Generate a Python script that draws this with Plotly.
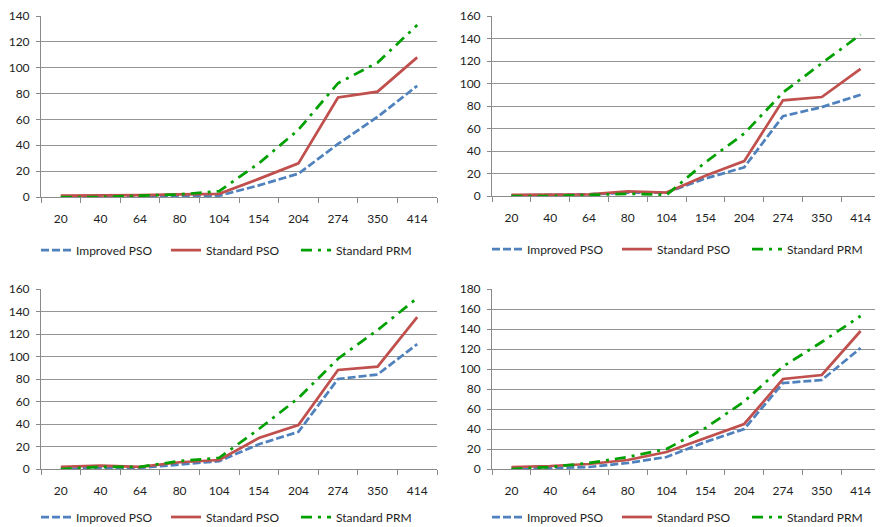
import plotly.graph_objects as go

categories = ["20", "40", "64", "80", "104", "154", "204", "274", "350", "414"]

# Panel 1 (top-left)
p1_improved = [0, 0, 0.5, 1, 1, 9, 18, 41, 62, 86]
p1_std_pso = [1, 1, 1.5, 2, 2.5, 14, 26, 77, 81.5, 108]
p1_std_prm = [0, 0, 1, 2, 4.5, 26, 52, 88, 104, 133]

# Panel 2 (top-right)
p2_improved = [0.5, 1, 1.5, 3, 3, 15.5, 25.5, 71, 79, 90]
p2_std_pso = [1, 1.5, 1.5, 4, 3, 18, 31, 85, 88, 113]
p2_std_prm = [0, 0, 1, 2, 1, 30, 55.5, 92, 118, 143.5]

# Panel 3 (bottom-left)
p3_improved = [0, 1, 1, 4, 7, 22, 33, 80, 84, 111]
p3_std_pso = [2, 3, 2, 6, 8, 27.5, 39, 88, 91, 135]
p3_std_prm = [0, 2, 2, 7, 10, 35.5, 63, 98, 123.5, 152]

# Panel 4 (bottom-right)
p4_improved = [0, 1, 2, 6, 12, 27, 40, 86, 89, 121]
p4_std_pso = [2, 3, 5, 9, 17, 31, 45, 90, 94, 138]
p4_std_prm = [0, 2, 6, 12, 20, 41, 67.5, 102.5, 127, 153]

y_max = [140, 160, 160, 180]
series_names = ["Improved PSO", "Standard PSO", "Standard PRM"]

panels = [
    (p1_improved, p1_std_pso, p1_std_prm),
    (p2_improved, p2_std_pso, p2_std_prm),
    (p3_improved, p3_std_pso, p3_std_prm),
    (p4_improved, p4_std_pso, p4_std_prm),
]

# the page body has an 8px margin, so the figure sits at (8, 8) in the window
OFF = 8
W, H = 883 - OFF, 527 - OFF
FONT = "Lato, 'Open Sans', sans-serif"
TXT = "#1e1e1e"
GRID = "#949494"
AX = "#8a8a8a"

# window-pixel boxes: (left, right, top, bottom, legend_y_center)
boxes = [
    (41, 437, 16, 197, 250),
    (492, 880, 16, 196, 249),
    (41, 437, 289, 469, 517),
    (492, 880, 289, 469, 517),
]

styles = [
    dict(color="#4F81BD", dash="8px,3px"),
    dict(color="#C0504D", dash="solid"),
    dict(color="#00A000", dash="11px,6px,3px,6px"),
]

fig = go.Figure()
layout = dict(
    width=W, height=H,
    margin=dict(l=0, r=0, t=0, b=0, autoexpand=False),
    paper_bgcolor="white", plot_bgcolor="white",
    font=dict(family=FONT, size=12, color=TXT),
)

for i, (data, (l, r, t, b, ly)) in enumerate(zip(panels, boxes)):
    l, r, t, b, ly = l - OFF, r - OFF, t - OFF, b - OFF, ly - OFF
    n = i + 1
    xa = "x" if n == 1 else f"x{n}"
    ya = "y" if n == 1 else f"y{n}"
    lg = "legend" if n == 1 else f"legend{n}"
    for vals, name, st in zip(data, series_names, styles):
        fig.add_trace(go.Scatter(
            x=categories, y=vals, name=name, mode="lines",
            line=dict(color=st["color"], dash=st["dash"], width=2.75),
            xaxis=xa, yaxis=ya, legend=lg, cliponaxis=False,
        ))
    xkey = "xaxis" if n == 1 else f"xaxis{n}"
    ykey = "yaxis" if n == 1 else f"yaxis{n}"
    layout[xkey] = dict(
        domain=[l / W, r / W], anchor=ya, type="category", automargin=False,
        range=[-0.5, 9.5], showgrid=False, zeroline=False,
        showline=True, linecolor=AX, linewidth=1,
        ticks="outside", tickson="boundaries", ticklen=5, tickcolor=AX,
        ticklabelstandoff=11,
        tickfont=dict(family=FONT, size=12, color=TXT),
    )
    layout[ykey] = dict(
        domain=[1 - b / H, 1 - t / H], anchor=xa, automargin=False,
        range=[0, y_max[i]], dtick=20, showgrid=True, gridcolor=GRID, gridwidth=1,
        zeroline=False, showline=True, linecolor=AX, linewidth=1,
        ticks="outside", ticklen=4, tickcolor=AX, ticklabelstandoff=4,
        tickfont=dict(family=FONT, size=12, color=TXT),
    )
    layout[lg] = dict(
        orientation="h", x=(l - 5) / W, xanchor="left",
        y=1 - ly / H, yanchor="middle", xref="container", yref="container",
        font=dict(family=FONT, size=12, color=TXT),
        bgcolor="rgba(0,0,0,0)", itemwidth=30, tracegroupgap=0,
        entrywidth=85, entrywidthmode="pixels",
    )

fig.update_layout(**layout)
fig.write_html("out.html")
